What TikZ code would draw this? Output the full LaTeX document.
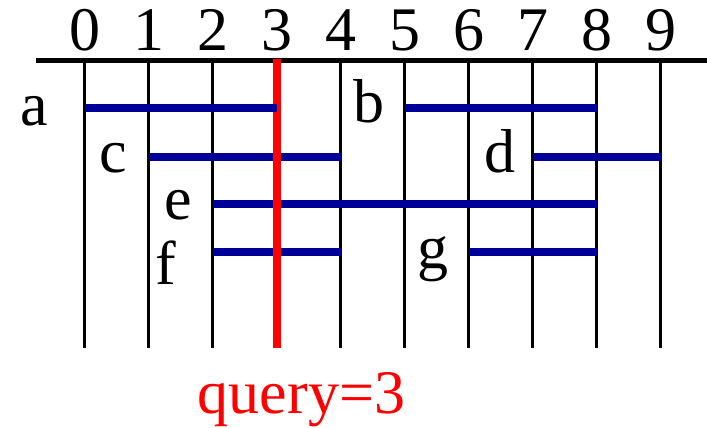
\documentclass[tikz,border=0pt]{standalone}
\usepackage{fontspec}
\setmainfont{Liberation Serif}
\definecolor{ivblue}{RGB}{0,0,153}
\definecolor{qred}{RGB}{255,0,0}
\begin{document}
\begin{tikzpicture}[x=1pt,y=-1pt,
  axisline/.style={line width=5pt,black},
  gridline/.style={line width=2.6pt,black},
  queryline/.style={line width=8pt,qred},
  interval/.style={line width=8pt,ivblue},
  bigtext/.style={font=\fontsize{62}{62}\selectfont,inner sep=0pt,anchor=base},
  tick/.style={bigtext},
  lbl/.style={bigtext}]
\useasboundingbox (0,0) rectangle (707,428);
% axis
\coordinate (axL) at (36,61);
\coordinate (axR) at (707,61);
\draw[axisline] (axL) -- (axR);
% grid lines and numbers
\foreach \i in {0,...,9}{
  \coordinate (t\i) at ({84.7+64*\i},61);
  \coordinate (b\i) at ({84.7+64*\i},348);
  \node[tick] (n\i) at ({84.7+64*\i},51) {\i};
}
\foreach \i in {0,1,2,4,5,6,7,8,9}{
  \draw[gridline] (t\i) -- (b\i);
}
% interval endpoints
\coordinate (a1) at (84.7,108);  \coordinate (a2) at (276.7,108);
\coordinate (b1) at (404.7,108); \coordinate (b2) at (596.7,108);
\coordinate (c1) at (148.7,157); \coordinate (c2) at (340.7,157);
\coordinate (d1) at (532.7,157); \coordinate (d2) at (660.7,157);
\coordinate (e1) at (212.7,204); \coordinate (e2) at (596.7,204);
\coordinate (f1) at (212.7,252); \coordinate (f2) at (340.7,252);
\coordinate (g1) at (468.7,252); \coordinate (g2) at (596.7,252);
\draw[interval] (b1) -- (b2);
\draw[interval] (c1) -- (c2);
\draw[interval] (d1) -- (d2);
\draw[interval] (e1) -- (e2);
\draw[interval] (f1) -- (f2);
\draw[interval] (g1) -- (g2);
% query line
\coordinate (qt) at (276.7,59);
\coordinate (qb) at (276.7,348);
\draw[queryline] (qt) -- (qb);
\draw[interval] (a1) -- (a2);
% labels
\node[lbl] (la) at (34,125) {a};
\node[lbl] (lb) at (369,122) {b};
\node[lbl] (lc) at (113,172) {c};
\node[lbl] (ld) at (500,172) {d};
\node[lbl] (le) at (178,219) {e};
\node[lbl] (lf) at (166,284) {f};
\node[lbl] (lg) at (433,268) {g};
\node[bigtext,text=qred] (q) at (301.5,413) {query=3};
\end{tikzpicture}
\end{document}
